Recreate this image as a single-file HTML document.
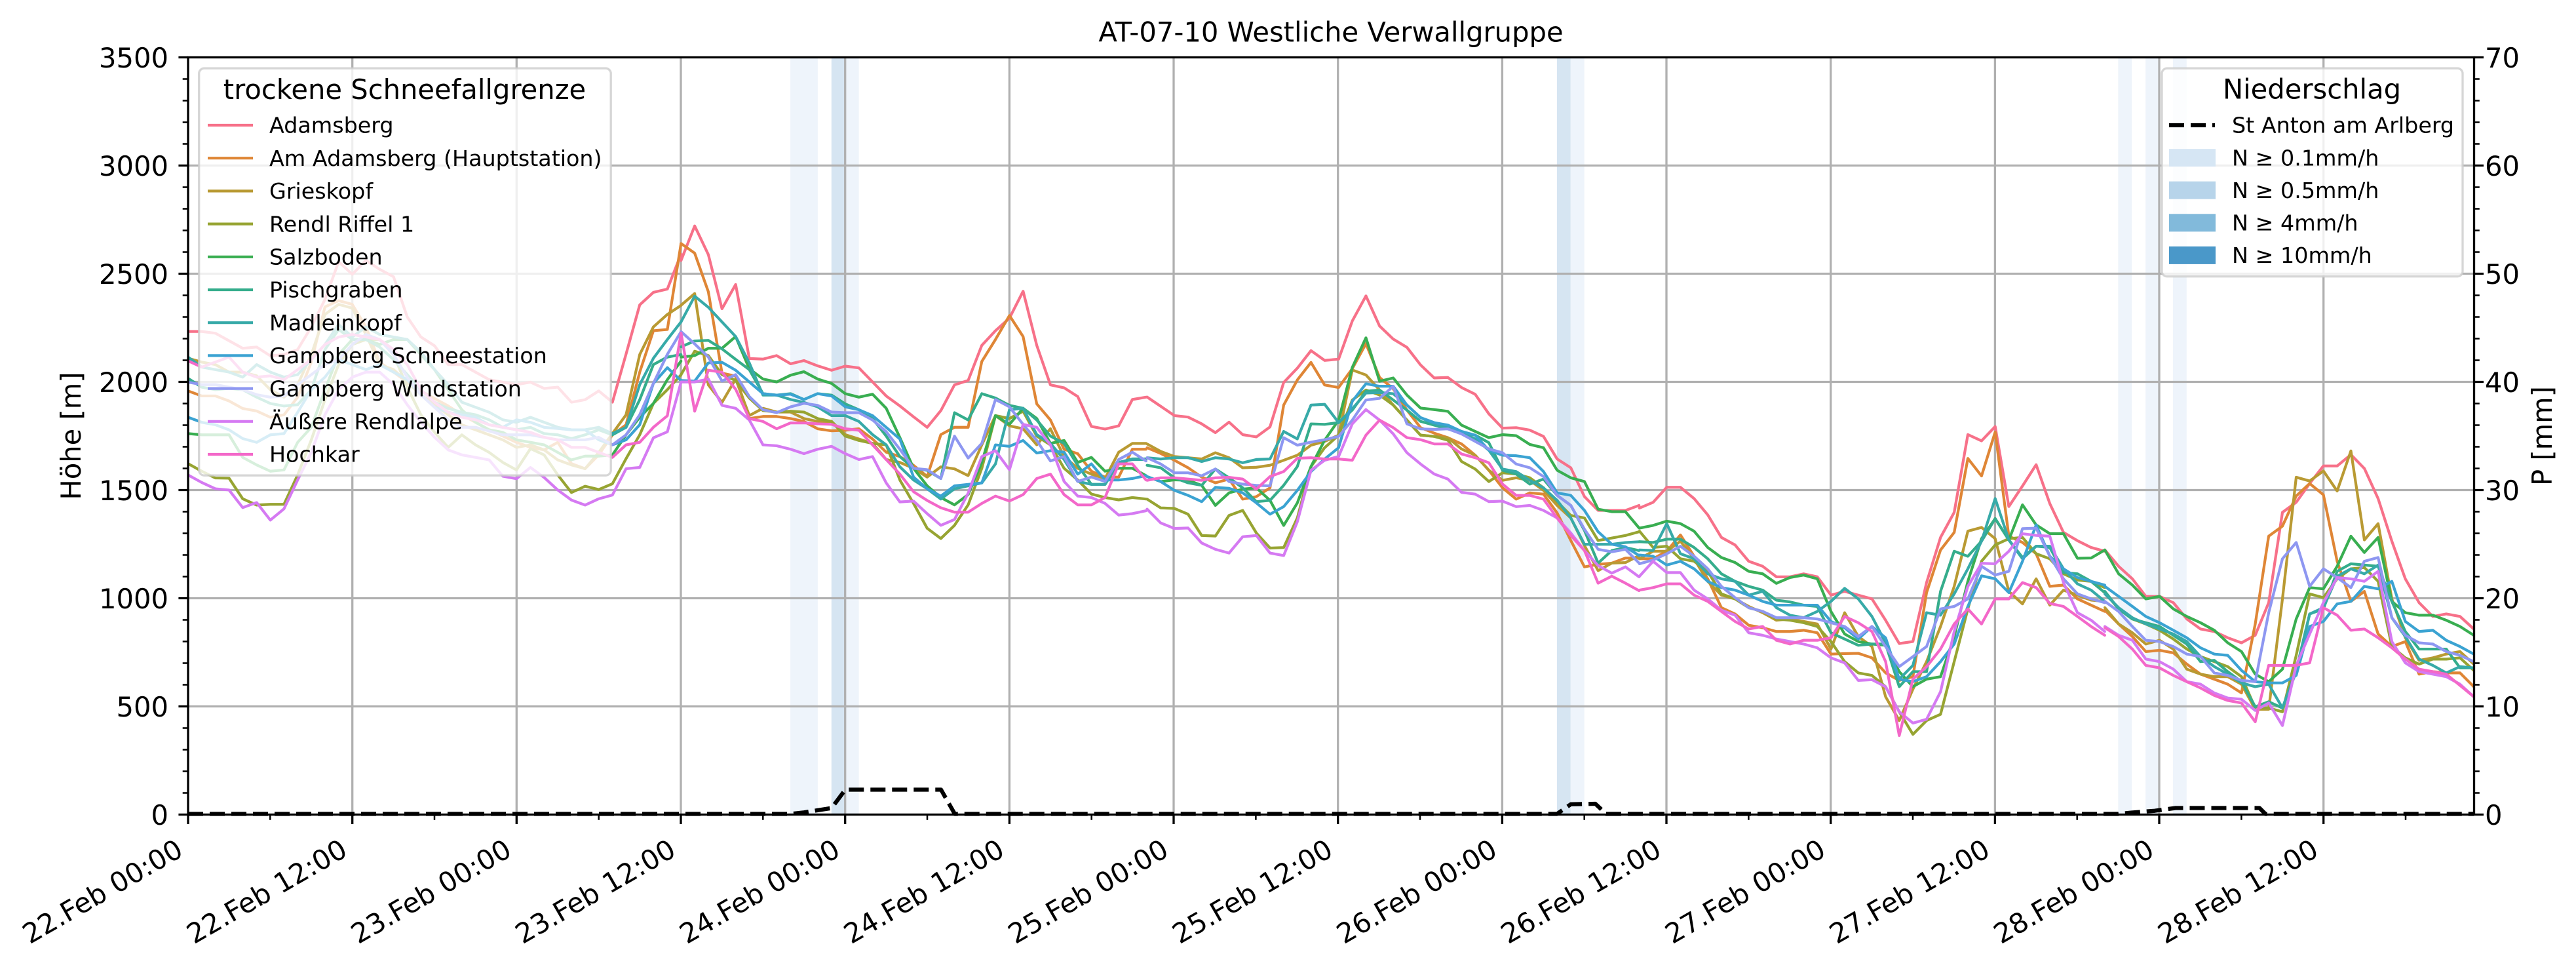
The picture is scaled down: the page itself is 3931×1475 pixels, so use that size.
<!DOCTYPE html>
<html><head><meta charset="utf-8">
<style>
html,body{margin:0;padding:0;background:#fff;}
svg{display:block;}
text{font-family:"DejaVu Sans","Liberation Sans",sans-serif;fill:#000;}
.s{fill:none;stroke-width:4.2;vector-effect:non-scaling-stroke;stroke-linejoin:round;stroke-linecap:round;}
.t{font-size:41.67px;}
.l{font-size:33.33px;}
</style></head>
<body>
<svg width="3931" height="1475" viewBox="0 0 3931 1475" xmlns="http://www.w3.org/2000/svg">
<defs><clipPath id="ax"><rect x="287" y="87.5" width="3488.5" height="1155"/></clipPath></defs>
<rect x="0" y="0" width="3931" height="1475" fill="#fff"/>

<!-- precipitation bands -->
<g>
<rect x="1206.1" y="87.5" width="41.8" height="1155" fill="#eef4fb"/>
<rect x="1268.8" y="87.5" width="20.9" height="1155" fill="#d6e5f2"/>
<rect x="1289.7" y="87.5" width="20.9" height="1155" fill="#eef4fb"/>
<rect x="2375.9" y="87.5" width="20.9" height="1155" fill="#d6e5f2"/>
<rect x="2396.8" y="87.5" width="20.9" height="1155" fill="#eef4fb"/>
<rect x="3232.3" y="87.5" width="20.9" height="1155" fill="#eef4fb"/>
<rect x="3274.1" y="87.5" width="20.9" height="1155" fill="#eef4fb"/>
<rect x="3315.9" y="87.5" width="20.9" height="1155" fill="#eef4fb"/>
</g>

<!-- grid -->
<g stroke="#b0b0b0" stroke-width="3.3" fill="none">
<path d="M537.7 87.5V1242.5M788.3 87.5V1242.5M1039 87.5V1242.5M1289.7 87.5V1242.5M1540.4 87.5V1242.5M1791 87.5V1242.5M2041.7 87.5V1242.5M2292.4 87.5V1242.5M2543 87.5V1242.5M2793.7 87.5V1242.5M3044.4 87.5V1242.5M3295 87.5V1242.5M3545.7 87.5V1242.5"/>
<path d="M287 252.5H3775.5M287 417.5H3775.5M287 582.5H3775.5M287 747.5H3775.5M287 912.5H3775.5M287 1077.5H3775.5"/>
</g>

<g clip-path="url(#ax)">
<!-- Z4 segment -->
<g transform="translate(287,250) scale(0.48469,0.38265)">
<polyline class="s" stroke="#f77189" points="0,668 43,668 86,675 129,705 172,735 216,730 259,765 302,760 345,740 388,650 431,540 474,390 517,440 560,385 603,420 647,450 690,610 733,690 776,725 819,800 862,800 905,830 948,860 991,870 1034,880 1078,870 1121,895 1164,890 1207,950 1250,940 1293,905 1336,950 1379,758 1422,562 1465,512 1509,499 1552,360"/>
<polyline class="s" stroke="#df8636" points="0,905 43,925 86,925 129,945 172,975 216,985 259,1010 302,1000 345,930 388,790 431,570 474,545 517,560 560,650 603,790 647,830 690,870 733,905 776,935 819,965 862,1000 905,1030 948,1060 991,1085 1034,1110 1078,1130 1121,1140 1164,1110 1207,1195 1250,1215 1293,1160 1336,1080 1379,1040 1422,830 1465,665 1509,660 1552,318"/>
<polyline class="s" stroke="#b99a33" points="0,775 43,790 86,800 129,830 172,830 216,845 259,900 302,930 345,880 388,760 431,600 474,560 517,575 560,680 603,800 647,820 690,870 733,920 776,960 819,1000 862,1040 905,1060 948,1080 991,1100 1034,1130 1078,1120 1121,1140 1164,1180 1207,1200 1250,1215 1293,1150 1336,1075 1379,1000 1422,760 1465,650 1509,600 1552,564"/>
<polyline class="s" stroke="#97a432" points="0,1195 43,1225 86,1252 129,1253 172,1335 216,1360 259,1357 302,1357 345,1240 388,1100 431,940 474,800 517,720 560,700 603,700 647,760 690,890 733,1000 776,1070 819,1130 862,1080 905,1120 948,1150 991,1190 1034,1220 1078,1135 1121,1160 1164,1240 1207,1310 1250,1285 1293,1298 1336,1275 1379,1175 1422,1080 1465,955 1509,900 1552,841"/>
<polyline class="s" stroke="#39ae51" points="0,1075 43,1080 86,1080 129,1080 172,1170 216,1200 259,1225 302,1220 345,1110 388,1050 431,900 474,760 517,700 560,700 603,720 647,700 690,700 733,760 776,820 819,900 862,980 905,1030 948,1060 991,1070 1034,1100 1078,1110 1121,1120 1164,1150 1207,1180 1250,1165 1293,1165 1336,1160 1379,1080 1422,1010 1465,955 1509,860 1552,786"/>
<polyline class="s" stroke="#35ad8c" points="0,855 43,890 86,900 129,895 172,900 216,930 259,955 302,965 345,960 388,900 431,740 474,660 517,700 560,700 603,730 647,780 690,840 733,900 776,950 819,975 862,990 905,1000 948,1020 991,1050 1034,1060 1078,1050 1121,1075 1164,1080 1207,1095 1250,1080 1293,1060 1336,1080 1379,1050 1422,940 1465,800 1509,770 1552,760"/>
<polyline class="s" stroke="#37aaa8" points="0,770 43,810 86,820 129,830 172,850 216,800 259,830 302,850 345,840 388,780 431,720 474,640 517,690 560,650 603,680 647,690 690,700 733,750 776,820 819,880 862,950 905,970 948,990 991,1020 1034,1030 1078,1010 1121,1030 1164,1050 1207,1060 1250,1060 1293,1050 1336,1075 1379,1050 1422,880 1465,775 1509,700 1552,630"/>
<polyline class="s" stroke="#3ba3d2" points="0,1010 43,1030 86,1040 129,1060 172,1095 216,1110 259,1080 302,1075 345,990 388,900 431,850 474,780 517,800 560,820 603,800 647,830 690,860 733,920 776,970 819,990 862,1000 905,1010 948,1040 991,1050 1034,1020 1078,1030 1121,1050 1164,1055 1207,1060 1250,1060 1293,1100 1336,1120 1379,1100 1422,1040 1465,875 1509,812 1552,864"/>
<polyline class="s" stroke="#8e97f1" points="0,870 43,880 86,880 129,890 172,900 216,920 259,930 302,925 345,880 388,840 431,800 474,780 517,720 560,680 603,700 647,760 690,850 733,920 776,970 819,1020 862,1050 905,1050 948,1065 991,1080 1034,1080 1078,1080 1121,1090 1164,1100 1207,1100 1250,1100 1293,1090 1336,1120 1379,1080 1422,1000 1465,875 1509,759 1552,669"/>
<polyline class="s" stroke="#d57af2" points="0,1240 43,1270 86,1295 129,1300 172,1370 216,1350 259,1420 302,1375 345,1260 388,1150 431,1000 474,900 517,850 560,830 603,830 647,880 690,960 733,1030 776,1090 819,1140 862,1160 905,1170 948,1180 991,1245 1034,1255 1078,1210 1121,1250 1164,1300 1207,1340 1250,1360 1293,1335 1336,1320 1379,1215 1422,1210 1465,1092 1509,1068 1552,870"/>
<polyline class="s" stroke="#f368c9" points="0,785 43,810 86,790 129,770 172,830 216,850 259,845 302,860 345,820 388,780 431,720 474,690 517,680 560,690 603,700 647,740 690,800 733,900 776,950 819,990 862,1010 905,1020 948,1040 991,1050 1034,1060 1078,1070 1121,1090 1164,1100 1207,1130 1250,1130 1293,1150 1336,1170 1379,1120 1422,1110 1465,1050 1509,1004 1552,675"/>
</g>

<!-- Z5 segment -->
<g transform="translate(1000,250) scale(0.48469,0.44643)">
<polyline class="s" stroke="#f77189" points="81,330 124,212 167,310 210,495 253,412 296,665 339,667 382,655 426,683 468,672 511,690 555,705 598,691 641,697 684,745 727,793 770,827 813,864 856,900 899,843 942,755 985,740 1028,620 1071,570 1115,527 1158,435 1201,620 1244,755 1287,765 1330,795 1373,897 1416,906 1459,895 1502,805 1545,797"/>
<polyline class="s" stroke="#df8636" points="81,272 124,305 167,437 210,715 253,725 296,870 339,863 382,863 426,870 468,880 511,905 555,912 598,910 641,905 684,940 727,985 770,1000 813,1030 856,1068 899,925 942,900 985,900 1028,675 1071,600 1115,518 1158,590 1201,820 1244,875 1287,975 1330,990 1373,1050 1416,1070 1459,1070 1502,975 1545,975"/>
<polyline class="s" stroke="#b99a33" points="81,483 124,443 167,755 210,815 253,735 296,860 339,835 382,848 426,848 468,870 511,880 555,880 598,925 641,940 684,955 727,1010 770,1020 813,1040 856,1070 899,1035 942,1042 985,1065 1028,960 1071,860 1115,895 1158,905 1201,960 1244,905 1287,1000 1330,1040 1373,1060 1416,1075 1459,985 1502,955 1545,955"/>
<polyline class="s" stroke="#97a432" points="81,720 124,640 167,655 210,720 253,740 296,800 339,843 382,848 426,845 468,848 511,870 555,880 598,930 641,945 684,955 727,960 770,1080 813,1160 856,1245 899,1280 942,1235 985,1165 1028,1040 1071,860 1115,870 1158,845 1201,930 1244,960 1287,1040 1330,1080 1373,1128 1416,1140 1459,1148 1502,1140 1545,1145"/>
<polyline class="s" stroke="#39ae51" points="81,660 124,655 167,630 210,630 253,590 296,700 339,735 382,745 426,722 468,710 511,735 555,750 598,785 641,797 684,787 727,835 770,935 813,1040 856,1100 899,1140 942,1165 985,1130 1028,1020 1071,860 1115,890 1158,835 1201,870 1244,955 1287,945 1330,1020 1373,1003 1416,1050 1459,1040 1502,1040 1545,1065"/>
<polyline class="s" stroke="#35ad8c" points="81,625 124,605 167,603 210,632 253,668 296,703 339,785 382,790 426,785 468,805 511,785 555,790 598,820 641,840 684,870 727,930 770,1000 813,1040 856,1047 899,1075 942,850 985,875 1028,785 1071,800 1115,825 1158,835 1201,875 1244,930 1287,955 1330,1030 1373,1095 1416,1095 1459,1020 1502,1008 1545,1008"/>
<polyline class="s" stroke="#37aaa8" points="81,540 124,452 167,490 210,540 253,590 296,680 339,790 382,790 426,805 468,815 511,830 555,860 598,860 641,880 684,925 727,960 770,1035 813,1080 856,1110 899,1145 942,1110 985,1100 1028,1090 1071,1025 1115,840 1158,835 1201,925 1244,955 1287,1010 1330,1085 1373,1095 1416,1095 1459,1020 1502,1010 1545,1010"/>
<polyline class="s" stroke="#3ba3d2" points="81,740 124,742 167,680 210,678 253,705 296,745 339,785 382,790 426,787 468,805 511,785 555,793 598,830 641,840 684,860 727,900 770,940 813,1070 856,1110 899,1135 942,1100 985,1095 1028,1090 1071,960 1115,965 1158,945 1201,988 1244,980 1287,985 1330,1060 1373,1025 1416,1080 1459,1080 1502,1075 1545,1065"/>
<polyline class="s" stroke="#8e97f1" points="81,573 124,615 167,660 210,742 253,720 296,795 339,840 382,850 426,830 468,818 511,825 555,848 598,850 641,850 684,875 727,915 770,975 813,1040 856,1045 899,1075 942,930 985,1005 1028,955 1071,805 1115,830 1158,890 1201,945 1244,1015 1287,1000 1330,1085 1373,1070 1416,1085 1459,1010 1502,985 1545,1015"/>
<polyline class="s" stroke="#d57af2" points="81,745 124,745 167,735 210,825 253,835 296,875 339,960 382,963 426,975 468,990 511,975 555,965 598,990 641,1010 684,1000 727,1090 770,1155 813,1152 856,1195 899,1235 942,1215 985,1125 1028,1000 1071,980 1115,1045 1158,890 1201,900 1244,960 1287,1085 1330,1135 1373,1140 1416,1160 1459,1200 1502,1195 1545,1185"/>
<polyline class="s" stroke="#f368c9" points="81,578 124,845 167,705 210,712 253,770 296,870 339,880 382,905 426,885 468,885 511,888 555,890 598,905 641,910 684,960 727,1010 770,1060 813,1120 856,1150 899,1175 942,1190 985,1190 1028,1160 1071,1135 1115,1152 1158,1130 1201,1075 1244,1060 1287,1130 1330,1165 1373,1165 1416,1140 1459,1025 1502,1025 1545,1080"/>
</g>

<!-- Z6 segment -->
<g transform="translate(1750,350) scale(0.48469,0.38265)">
<polyline class="s" stroke="#f77189" points="1,668 44,705 87,742 130,748 173,775 216,810 259,768 302,818 345,827 388,787 431,610 474,553 517,483 560,522 604,517 647,365 690,265 733,385 776,437 819,470 862,540 905,592 948,590 991,630 1034,657 1077,735 1120,792 1163,790 1206,800 1249,825 1292,915 1335,950 1378,1065 1421,1120 1464,1120 1507,1120 1550,1100"/>
<polyline class="s" stroke="#df8636" points="1,870 44,893 87,920 130,950 173,987 216,1010 259,995 302,1075 345,1065 388,1030 431,700 474,600 517,530 560,620 604,630 647,555 690,455 733,590 776,635 819,720 862,790 905,812 948,830 991,855 1034,900 1077,960 1120,1030 1163,1075 1206,1050 1249,1055 1292,1130 1335,1240 1378,1345 1421,1335 1464,1330 1507,1310 1550,1310"/>
<polyline class="s" stroke="#b99a33" points="1,855 44,885 87,905 130,910 173,915 216,890 259,910 302,950 345,948 388,940 431,920 474,900 517,860 560,845 604,820 647,560 690,580 733,640 776,700 819,760 862,820 905,825 948,830 991,875 1034,900 1077,960 1120,1000 1163,990 1206,1000 1249,1040 1292,1100 1335,1150 1378,1260 1421,1360 1464,1330 1507,1328 1550,1300"/>
<polyline class="s" stroke="#97a432" points="1,1075 44,1110 87,1112 130,1135 173,1220 216,1222 259,1140 302,1120 345,1210 388,1270 431,1268 474,1150 517,945 560,870 604,820 647,680 690,640 733,660 776,700 819,760 862,820 905,825 948,840 991,925 1034,955 1077,1005 1120,970 1163,975 1206,990 1249,1030 1292,1085 1335,1140 1378,1150 1421,1240 1464,1230 1507,1220 1550,1205"/>
<polyline class="s" stroke="#39ae51" points="1,985 44,1005 87,998 130,1000 173,1020 216,1100 259,1050 302,1035 345,1030 388,1080 431,1180 474,1090 517,945 560,840 604,760 647,550 690,432 733,605 776,592 819,660 862,712 905,718 948,725 991,780 1034,805 1077,830 1120,818 1163,822 1206,857 1249,870 1292,960 1335,990 1378,1005 1421,1115 1464,1125 1507,1125 1550,1190"/>
<polyline class="s" stroke="#35ad8c" points="1,940 44,950 87,990 130,1010 173,1020 216,955 259,990 302,1030 345,1085 388,1080 431,1020 474,945 517,775 560,777 604,770 647,720 690,645 733,640 776,680 819,720 862,765 905,780 948,795 991,810 1034,820 1077,850 1120,960 1163,975 1206,1015 1249,995 1292,1060 1335,1100 1378,1200 1421,1330 1464,1280 1507,1268 1550,1280"/>
<polyline class="s" stroke="#37aaa8" points="1,910 44,915 87,910 130,910 173,925 216,910 259,915 302,930 345,917 388,915 431,805 474,835 517,700 560,697 604,770 647,715 690,652 733,650 776,655 819,700 862,750 905,775 948,790 991,810 1034,835 1077,880 1120,955 1163,965 1206,1000 1249,1030 1292,1080 1335,1150 1378,1255 1421,1255 1464,1255 1507,1248 1550,1245"/>
<polyline class="s" stroke="#3ba3d2" points="1,985 44,1005 87,1040 130,1060 173,1085 216,1028 259,1032 302,1050 345,1090 388,1135 431,1105 474,1040 517,965 560,915 604,870 647,685 690,615 733,625 776,625 819,700 862,750 905,770 948,780 991,805 1034,820 1077,880 1120,900 1163,902 1206,910 1249,965 1292,1050 1335,1060 1378,1120 1421,1205 1464,1255 1507,1265 1550,1300"/>
<polyline class="s" stroke="#8e97f1" points="1,910 44,935 87,970 130,970 173,982 216,955 259,1005 302,1015 345,1020 388,1022 431,830 474,860 517,848 560,838 604,825 647,760 690,680 733,673 776,625 819,775 862,795 905,797 948,795 991,815 1034,845 1077,875 1120,890 1163,935 1206,950 1249,985 1292,1060 1335,1100 1378,1195 1421,1275 1464,1285 1507,1275 1550,1330"/>
<polyline class="s" stroke="#d57af2" points="1,1115 44,1170 87,1192 130,1190 173,1250 216,1275 259,1290 302,1225 345,1220 388,1290 431,1300 474,1165 517,960 560,920 604,905 647,775 690,718 733,760 776,815 819,890 862,935 905,975 948,995 991,1048 1034,1055 1077,1085 1120,1083 1163,1105 1206,1100 1249,1120 1292,1150 1335,1210 1378,1280 1421,1340 1464,1370 1507,1345 1550,1385"/>
<polyline class="s" stroke="#f368c9" points="1,1000 44,990 87,990 130,995 173,1000 216,990 259,988 302,995 345,1035 388,985 431,965 474,912 517,910 560,915 604,915 647,920 690,820 733,760 776,790 819,830 862,838 905,855 948,855 991,895 1034,910 1077,930 1120,1015 1163,1060 1206,1060 1249,1075 1292,1150 1335,1220 1378,1280 1421,1410 1464,1382 1507,1410 1550,1440"/>
</g>

<!-- Z7 segment -->
<g transform="translate(2480,550) scale(0.48469,0.38265)">
<polyline class="s" stroke="#f77189" points="45,588 88,565 131,505 174,505 217,550 260,615 303,705 346,735 389,800 433,820 476,862 519,862 562,850 605,862 648,935 691,920 734,935 777,950 820,1035 863,1128 906,1120 949,885 993,705 1036,605 1079,295 1122,320 1165,263 1208,582 1251,500 1294,415 1337,570 1380,685 1424,718 1467,745 1510,760"/>
<polyline class="s" stroke="#df8636" points="45,790 88,790 131,760 174,695 217,780 260,870 303,985 346,1010 389,1055 433,1065 476,1080 519,1080 562,1075 605,1085 648,1170 691,1168 734,1167 777,1185 820,1245 863,1275 906,1260 949,925 993,755 1036,685 1079,390 1122,460 1165,285 1208,700 1251,725 1294,770 1337,900 1380,895 1424,950 1467,975 1510,1000"/>
<polyline class="s" stroke="#b99a33" points="45,790 88,760 131,760 174,720 217,790 260,880 303,935 346,950 389,980 433,1005 476,1035 519,1030 562,1040 605,1050 648,1150 691,1005 734,1100 777,1140 820,1340 863,1435 906,1310 949,1200 993,1060 1036,900 1079,680 1122,665 1165,710 1208,920 1251,970 1294,870 1337,975 1380,915 1424,935 1467,955 1510,960"/>
<polyline class="s" stroke="#97a432" points="45,680 88,745 131,740 174,790 217,800 260,840 303,930 346,950 389,985 433,1000 476,1030 519,1035 562,1045 605,1060 648,1120 691,1200 734,1245 777,1255 820,1300 863,1400 906,1490 949,1435 993,1410 1036,1200 1079,990 1122,800 1165,735 1208,710 1251,705 1294,770 1337,790 1380,850 1424,875 1467,880 1510,905"/>
<polyline class="s" stroke="#39ae51" points="45,668 88,657 131,640 174,650 217,680 260,745 303,785 346,805 389,840 433,850 476,888 519,865 562,855 605,870 648,1000 691,1090 734,1120 777,1130 820,1135 863,1240 906,1300 949,1270 993,1260 1036,1100 1079,880 1122,710 1165,630 1208,715 1251,575 1294,655 1337,690 1380,690 1424,788 1467,787 1510,755"/>
<polyline class="s" stroke="#35ad8c" points="45,722 88,725 131,712 174,712 217,745 260,790 303,850 346,880 389,900 433,915 476,955 519,962 562,975 605,980 648,1085 691,1110 734,1135 777,1130 820,1130 863,1300 906,1240 949,1240 993,920 1036,760 1079,780 1122,720 1165,630 1208,715 1251,785 1294,740 1337,745 1380,845 1424,850 1467,880 1510,925"/>
<polyline class="s" stroke="#37aaa8" points="45,755 88,757 131,650 174,770 217,790 260,850 303,870 346,880 389,935 433,920 476,985 519,1015 562,1025 605,1000 648,960 691,908 734,950 777,1020 820,1125 863,1270 906,1215 949,1005 993,1015 1036,930 1079,830 1122,720 1165,550 1208,715 1251,790 1294,740 1337,740 1380,830 1424,890 1467,915 1510,960"/>
<polyline class="s" stroke="#3ba3d2" points="45,775 88,780 131,815 174,800 217,830 260,880 303,905 346,915 389,935 433,960 476,975 519,975 562,975 605,975 648,1040 691,1065 734,1110 777,1060 820,1105 863,1270 906,1280 949,1260 993,1200 1036,1130 1079,980 1122,858 1165,870 1208,925 1251,800 1294,655 1337,780 1380,830 1424,865 1467,880 1510,895"/>
<polyline class="s" stroke="#8e97f1" points="45,810 88,795 131,770 174,740 217,780 260,830 303,900 346,945 389,985 433,1000 476,1025 519,1025 562,1025 605,1030 648,1045 691,1060 734,1100 777,1060 820,1140 863,1220 906,1180 949,1140 993,990 1036,980 1079,950 1122,820 1165,855 1208,840 1251,670 1294,668 1337,780 1380,870 1424,930 1467,950 1510,965"/>
<polyline class="s" stroke="#d57af2" points="45,860 88,800 131,845 174,845 217,915 260,950 303,995 346,1015 389,1085 433,1095 476,1110 519,1120 562,1130 605,1145 648,1185 691,1205 734,1275 777,1272 820,1300 863,1400 906,1445 949,1430 993,1320 1036,1080 1079,900 1122,808 1165,810 1208,760 1251,690 1294,697 1337,700 1380,885 1424,1005 1467,1035 1510,1080"/>
<polyline class="s" stroke="#f368c9" points="45,915 88,905 131,890 174,890 217,935 260,960 303,1000 346,1040 389,1070 433,1060 476,1115 519,1130 562,1115 605,1115 648,1105 691,1020 734,1045 777,1080 820,1200 863,1495 906,1270 949,1220 993,1150 1036,1050 1079,990 1122,1050 1165,950 1208,950 1251,885 1294,905 1337,968 1380,980 1424,1020 1467,1060 1510,1095"/>
</g>

<!-- Z8 segment -->
<g transform="translate(3100,550) scale(0.44643,0.38265)">
<polyline class="s" stroke="#f77189" points="251,755 298,820 345,870 391,940 438,940 485,965 531,1030 578,1070 625,1080 671,1105 718,1125 765,1095 811,965 858,605 905,565 951,490 998,420 1045,420 1092,375 1138,430 1185,550 1232,720 1278,870 1325,965 1372,1020 1418,1010 1465,1020 1512,1070"/>
<polyline class="s" stroke="#df8636" points="251,995 298,1050 345,1100 391,1160 438,1155 485,1165 531,1210 578,1250 625,1270 671,1290 718,1325 765,1050 811,700 858,660 905,540 951,490 998,535 1045,800 1092,960 1138,920 1185,1090 1232,1140 1278,1120 1325,1250 1372,1240 1418,1245 1465,1245 1512,1300"/>
<polyline class="s" stroke="#b99a33" points="251,985 298,1050 345,1085 391,1130 438,1115 485,1150 531,1230 578,1250 625,1260 671,1260 718,1290 765,1390 811,1390 858,950 905,465 951,480 998,440 1045,520 1092,360 1138,715 1185,650 1232,950 1278,1105 1325,1195 1372,1185 1418,1170 1465,1160 1512,1210"/>
<polyline class="s" stroke="#97a432" points="251,925 298,990 345,1030 391,1050 438,1075 485,1110 531,1150 578,1180 625,1200 671,1220 718,1260 765,1385 811,1385 858,1400 905,1175 951,930 998,945 1045,870 1092,830 1138,825 1185,880 1232,1140 1278,1185 1325,1210 1372,1190 1418,1190 1465,1185 1512,1235"/>
<polyline class="s" stroke="#39ae51" points="251,755 298,850 345,895 391,950 438,940 485,990 531,1020 578,1045 625,1075 671,1125 718,1160 765,1250 811,1280 858,1230 905,1030 951,905 998,910 1045,820 1092,700 1138,765 1185,705 1232,960 1278,1005 1325,1015 1372,1015 1418,1035 1465,1060 1512,1095"/>
<polyline class="s" stroke="#35ad8c" points="251,920 298,990 345,1030 391,1045 438,1060 485,1095 531,1130 578,1200 625,1195 671,1240 718,1280 765,1380 811,1360 858,1385 905,1235 951,1010 998,990 1045,840 1092,810 1138,815 1185,820 1232,960 1278,1080 1325,1150 1372,1150 1418,1150 1465,1225 1512,1225"/>
<polyline class="s" stroke="#37aaa8" points="251,930 298,985 345,1025 391,1050 438,1070 485,1090 531,1120 578,1180 625,1220 671,1250 718,1285 765,1300 811,1290 858,1385 905,1240 951,1010 998,985 1045,860 1092,830 1138,850 1185,815 1232,1025 1278,1100 1325,1190 1372,1215 1418,1245 1465,1220 1512,1225"/>
<polyline class="s" stroke="#3ba3d2" points="251,900 298,940 345,980 391,1020 438,1045 485,1075 531,1105 578,1145 625,1170 671,1175 718,1235 765,1280 811,1285 858,1285 905,1255 951,1060 998,1040 1045,970 1092,960 1138,900 1185,910 1232,880 1278,1040 1325,1080 1372,1075 1418,1115 1465,1140 1512,1170"/>
<polyline class="s" stroke="#8e97f1" points="251,960 298,1000 345,1060 391,1115 438,1120 485,1140 531,1170 578,1180 625,1245 671,1255 718,1275 765,1280 811,1005 858,790 905,725 951,900 998,830 1045,865 1092,905 1138,800 1185,785 1232,1025 1278,1095 1325,1125 1372,1130 1418,1160 1465,1175 1512,1200"/>
<polyline class="s" stroke="#d57af2" points="251,1060 298,1095 345,1115 391,1190 438,1200 485,1230 531,1280 578,1290 625,1325 671,1345 718,1350 765,1395 811,1365 858,1455 905,1215 951,1090 998,965 1045,865 1092,870 1138,880 1185,840 1232,1120 1278,1205 1325,1240 1372,1250 1418,1260 1465,1290 1512,1340"/>
<polyline class="s" stroke="#f368c9" points="251,1065 298,1100 345,1150 391,1215 438,1225 485,1255 531,1280 578,1305 625,1335 671,1355 718,1365 765,1440 811,1215 858,1215 905,1215 951,1205 998,985 1045,1015 1092,1075 1138,1070 1185,1105 1232,1145 1278,1190 1325,1230 1372,1240 1418,1250 1465,1295 1512,1340"/>
</g>
</g>

<!-- spines -->
<g stroke="#000" stroke-width="3.3" fill="none">
<rect x="287" y="87.5" width="3488.5" height="1155"/>
</g>

<!-- precipitation dashed line -->
<polyline fill="none" stroke="#000" stroke-width="6.25" stroke-dasharray="23 10" stroke-linejoin="round" points="287,1241.5 1206,1241.5 1227,1239.2 1269,1232.6 1290,1204.5 1436,1204.5 1457,1241.5 2376,1241.5 2397,1226.8 2434.5,1226 2451,1241.5 3232.5,1241.5 3253,1239.5 3288,1236.7 3320,1232.5 3448,1232.5 3457,1241.5 3775,1241.5"/>

<!-- ticks -->
<g stroke="#000" stroke-width="3.3" fill="none">
<path d="M272.4 87.5H287M272.4 252.5H287M272.4 417.5H287M272.4 582.5H287M272.4 747.5H287M272.4 912.5H287M272.4 1077.5H287M272.4 1242.5H287"/>
<path d="M3775.5 87.5H3790M3775.5 252.5H3790M3775.5 417.5H3790M3775.5 582.5H3790M3775.5 747.5H3790M3775.5 912.5H3790M3775.5 1077.5H3790M3775.5 1242.5H3790"/>
<path d="M287 1242.5V1257M537.7 1242.5V1257M788.3 1242.5V1257M1039 1242.5V1257M1289.7 1242.5V1257M1540.4 1242.5V1257M1791 1242.5V1257M2041.7 1242.5V1257M2292.4 1242.5V1257M2543 1242.5V1257M2793.7 1242.5V1257M3044.4 1242.5V1257M3295 1242.5V1257M3545.7 1242.5V1257"/>
</g>
<g stroke="#000" stroke-width="2.5" fill="none">
<path d="M278.7 120.5H287M278.7 153.5H287M278.7 186.5H287M278.7 219.5H287M278.7 285.5H287M278.7 318.5H287M278.7 351.5H287M278.7 384.5H287M278.7 450.5H287M278.7 483.5H287M278.7 516.5H287M278.7 549.5H287M278.7 615.5H287M278.7 648.5H287M278.7 681.5H287M278.7 714.5H287M278.7 780.5H287M278.7 813.5H287M278.7 846.5H287M278.7 879.5H287M278.7 945.5H287M278.7 978.5H287M278.7 1011.5H287M278.7 1044.5H287M278.7 1110.5H287M278.7 1143.5H287M278.7 1176.5H287M278.7 1209.5H287"/>
<path d="M3775.5 120.5H3783.8M3775.5 153.5H3783.8M3775.5 186.5H3783.8M3775.5 219.5H3783.8M3775.5 285.5H3783.8M3775.5 318.5H3783.8M3775.5 351.5H3783.8M3775.5 384.5H3783.8M3775.5 450.5H3783.8M3775.5 483.5H3783.8M3775.5 516.5H3783.8M3775.5 549.5H3783.8M3775.5 615.5H3783.8M3775.5 648.5H3783.8M3775.5 681.5H3783.8M3775.5 714.5H3783.8M3775.5 780.5H3783.8M3775.5 813.5H3783.8M3775.5 846.5H3783.8M3775.5 879.5H3783.8M3775.5 945.5H3783.8M3775.5 978.5H3783.8M3775.5 1011.5H3783.8M3775.5 1044.5H3783.8M3775.5 1110.5H3783.8M3775.5 1143.5H3783.8M3775.5 1176.5H3783.8M3775.5 1209.5H3783.8"/>
<path d="M412.3 1242.5V1250.8M663 1242.5V1250.8M913.7 1242.5V1250.8M1164.3 1242.5V1250.8M1415 1242.5V1250.8M1665.7 1242.5V1250.8M1916.4 1242.5V1250.8M2167 1242.5V1250.8M2417.7 1242.5V1250.8M2668.4 1242.5V1250.8M2919 1242.5V1250.8M3169.7 1242.5V1250.8M3420.4 1242.5V1250.8M3671 1242.5V1250.8"/>
</g>

<!-- left tick labels -->
<g class="t" text-anchor="end">
<text x="257" y="103">3500</text>
<text x="257" y="268">3000</text>
<text x="257" y="433">2500</text>
<text x="257" y="598">2000</text>
<text x="257" y="763">1500</text>
<text x="257" y="928">1000</text>
<text x="257" y="1093">500</text>
<text x="257" y="1258">0</text>
</g>
<!-- right tick labels -->
<g class="t">
<text x="3792" y="103">70</text>
<text x="3792" y="268">60</text>
<text x="3792" y="433">50</text>
<text x="3792" y="598">40</text>
<text x="3792" y="763">30</text>
<text x="3792" y="928">20</text>
<text x="3792" y="1093">10</text>
<text x="3792" y="1258">0</text>
</g>

<!-- x tick labels -->
<g class="t" text-anchor="end">
<text transform="translate(282,1304) rotate(-30)">22.Feb 00:00</text>
<text transform="translate(532.7,1304) rotate(-30)">22.Feb 12:00</text>
<text transform="translate(783.3,1304) rotate(-30)">23.Feb 00:00</text>
<text transform="translate(1034,1304) rotate(-30)">23.Feb 12:00</text>
<text transform="translate(1284.7,1304) rotate(-30)">24.Feb 00:00</text>
<text transform="translate(1535.4,1304) rotate(-30)">24.Feb 12:00</text>
<text transform="translate(1786,1304) rotate(-30)">25.Feb 00:00</text>
<text transform="translate(2036.7,1304) rotate(-30)">25.Feb 12:00</text>
<text transform="translate(2287.4,1304) rotate(-30)">26.Feb 00:00</text>
<text transform="translate(2538,1304) rotate(-30)">26.Feb 12:00</text>
<text transform="translate(2788.7,1304) rotate(-30)">27.Feb 00:00</text>
<text transform="translate(3039.4,1304) rotate(-30)">27.Feb 12:00</text>
<text transform="translate(3290,1304) rotate(-30)">28.Feb 00:00</text>
<text transform="translate(3540.7,1304) rotate(-30)">28.Feb 12:00</text>
</g>

<!-- axis labels & title -->
<text class="t" text-anchor="middle" transform="translate(123,665) rotate(-90)">Höhe [m]</text>
<text class="t" text-anchor="middle" transform="translate(3894,665) rotate(-90)">P [mm]</text>
<text class="t" x="2031" y="63.3" text-anchor="middle">AT-07-10 Westliche Verwallgruppe</text>

<!-- legend 1 -->
<rect x="303.7" y="104.2" width="628.5" height="621" rx="8" ry="8" fill="#fff" fill-opacity="0.8" stroke="#cccccc" stroke-opacity="0.8" stroke-width="3.3"/>
<text class="t" x="617.5" y="151" text-anchor="middle">trockene Schneefallgrenze</text>
<g stroke-width="4.2" fill="none">
<path d="M317 191H386" stroke="#f77189"/>
<path d="M317 241.2H386" stroke="#df8636"/>
<path d="M317 291.4H386" stroke="#b99a33"/>
<path d="M317 341.6H386" stroke="#97a432"/>
<path d="M317 391.8H386" stroke="#39ae51"/>
<path d="M317 442H386" stroke="#35ad8c"/>
<path d="M317 492.2H386" stroke="#37aaa8"/>
<path d="M317 542.4H386" stroke="#3ba3d2"/>
<path d="M317 592.6H386" stroke="#8e97f1"/>
<path d="M317 642.8H386" stroke="#d57af2"/>
<path d="M317 693H386" stroke="#f368c9"/>
</g>
<g class="l">
<text x="411" y="202.7">Adamsberg</text>
<text x="411" y="252.9">Am Adamsberg (Hauptstation)</text>
<text x="411" y="303.1">Grieskopf</text>
<text x="411" y="353.3">Rendl Riffel 1</text>
<text x="411" y="403.5">Salzboden</text>
<text x="411" y="453.7">Pischgraben</text>
<text x="411" y="503.9">Madleinkopf</text>
<text x="411" y="554.1">Gampberg Schneestation</text>
<text x="411" y="604.3">Gampberg Windstation</text>
<text x="411" y="654.5">Äußere Rendlalpe</text>
<text x="411" y="704.7">Hochkar</text>
</g>

<!-- legend 2 -->
<rect x="3299" y="104.2" width="459" height="317.5" rx="8" ry="8" fill="#fff" fill-opacity="0.8" stroke="#cccccc" stroke-opacity="0.8" stroke-width="3.3"/>
<text class="t" x="3528" y="150.7" text-anchor="middle">Niederschlag</text>
<path d="M3310 191H3380" stroke="#000" stroke-width="6.25" stroke-dasharray="23 10" fill="none"/>
<rect x="3310" y="227.1" width="71" height="27" fill="#d6e6f4"/>
<rect x="3310" y="276.7" width="71" height="27" fill="#b7d4ea"/>
<rect x="3310" y="326.3" width="71" height="27" fill="#82badb"/>
<rect x="3310" y="375.9" width="71" height="27" fill="#4a98c9"/>
<g class="l">
<text x="3406" y="202.7">St Anton am Arlberg</text>
<text x="3406" y="252.3">N ≥ 0.1mm/h</text>
<text x="3406" y="301.9">N ≥ 0.5mm/h</text>
<text x="3406" y="351.5">N ≥ 4mm/h</text>
<text x="3406" y="401.1">N ≥ 10mm/h</text>
</g>
</svg>
</body></html>
